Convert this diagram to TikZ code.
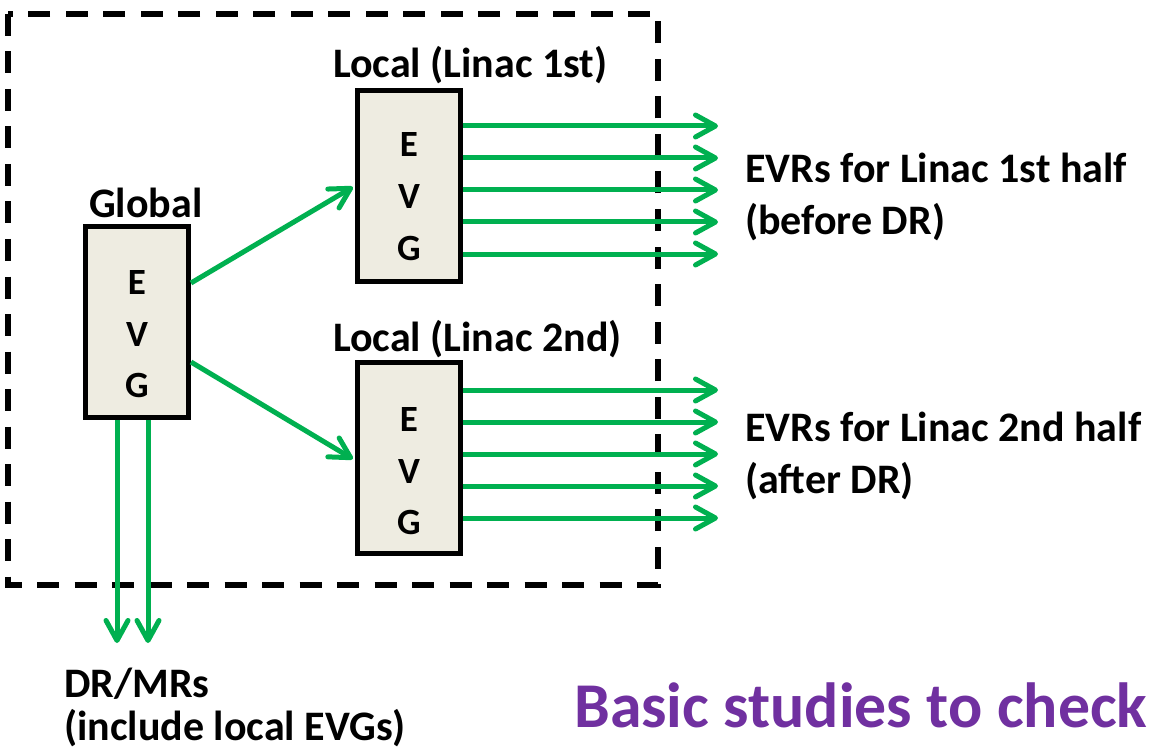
\documentclass[tikz,border=0pt]{standalone}
\usepackage{fontspec}
\setmainfont{Carlito}
\usetikzlibrary{arrows.meta}
\definecolor{evgfill}{HTML}{EEECE1}
\definecolor{arrgreen}{HTML}{00B050}
\definecolor{titlepurple}{HTML}{7030A0}
\tikzset{
  evgbox/.style={draw=black, line width=5pt, fill=evgfill, minimum width=103pt, minimum height=191pt, inner sep=0pt},
  evgtext/.style={inner sep=0pt, anchor=base, font=\bfseries\fontsize{37}{44}\selectfont},
  garrow/.style={draw=arrgreen, line width=5pt, -{Straight Barb[length=20pt,width=22pt,round]}},
  dashbox/.style={draw=black, line width=5.5pt, dash pattern=on 22pt off 15.5pt},
  lbl/.style={font=\bfseries\fontsize{42}{52}\selectfont, inner sep=0pt, anchor=base west},
  title/.style={font=\bfseries\fontsize{63.8}{70}\selectfont, inner sep=0pt, anchor=base west, text=titlepurple}
}
\begin{document}
\begin{tikzpicture}[x=1pt,y=-1pt]
\useasboundingbox (0,0) rectangle (1150,751);
% dashed frame
\draw[dashbox] (8,14) rectangle (658,585);
% EVG boxes
\node[evgbox] (g) at (137,322) {};
\node[evgbox] (l1) at (408.5,186) {};
\node[evgbox] (l2) at (408.5,458) {};
\foreach \b/\x/\yy in {g/137/294, l1/409/157, l2/409/431} {
  \node[evgtext] (\b-e) at (\x,\yy) {E};
  \node[evgtext] (\b-v) at (\x,\yy+52) {V};
  \node[evgtext] (\b-g) at (\x,\yy+103) {G};
}
% labels
\node[lbl] (lg) at (89,218) {Global};
\node[lbl] (ll1) at (333,78) {Local (Linac 1st)};
\node[lbl] (ll2) at (333,351) {Local (Linac 2nd)};
\node[lbl] (evr1a) at (745,183) {EVRs for Linac 1st half};
\node[lbl] (evr1b) at (745,235) {(before DR)};
\node[lbl] (evr2a) at (745,441) {EVRs for Linac 2nd half};
\node[lbl] (evr2b) at (745,493) {(after DR)};
\node[lbl] (dra) at (64,697) {DR/MRs};
\node[lbl] (drb) at (64,740) {(include local EVGs)};
\node[title] (bs) at (574,727) {Basic studies to check};
% arrows from global
\draw[garrow, shorten >=2pt] ([yshift=39pt]g.east) -- (l1.west);
\draw[garrow, shorten >=2pt] ([yshift=-40pt]g.east) -- ([yshift=-2pt]l2.west);
\coordinate (d1) at (117,643);
\coordinate (d2) at (148,643);
\draw[garrow] (g.south -| d1) -- (d1);
\draw[garrow] (g.south -| d2) -- (d2);
% fan-out arrows
\foreach \y [count=\i] in {126,158,190,222,254} {
  \coordinate (ra\i) at (718,\y);
  \draw[garrow] (l1.east |- ra\i) -- (ra\i);
}
\foreach \y [count=\i] in {390,422,454,486,518} {
  \coordinate (rb\i) at (718,\y);
  \draw[garrow] (l2.east |- rb\i) -- (rb\i);
}
\end{tikzpicture}
\end{document}
